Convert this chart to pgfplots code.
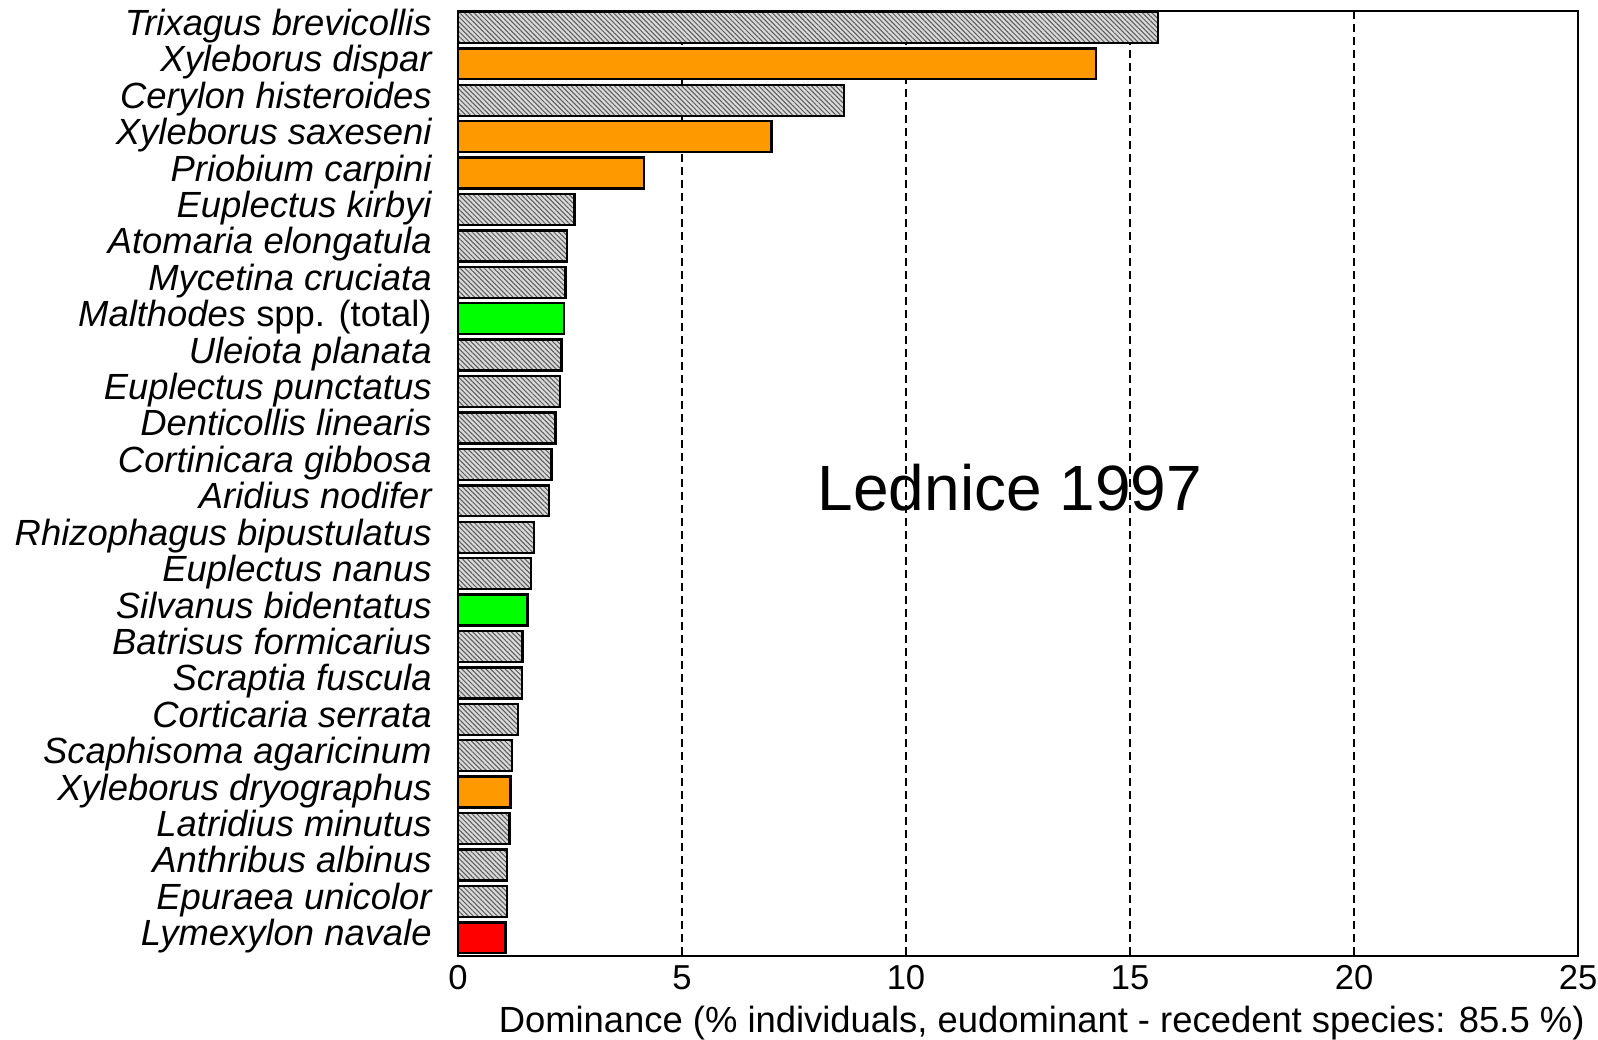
\documentclass[border=0pt]{standalone}
\usepackage{pgfplots}
\pgfplotsset{compat=1.18}
\usepackage{fontspec}
\setmainfont{Liberation Sans}
\usetikzlibrary{patterns.meta}
\definecolor{barorange}{RGB}{255,153,0}
\definecolor{bargreen}{RGB}{0,255,0}
\definecolor{barred}{RGB}{255,0,0}
\begin{document}
\begin{tikzpicture}
\begin{axis}[
  at={(0,0)}, anchor=south west,
  scale only axis,
  width=560pt, height=472.5pt,
  xmin=0, xmax=25,
  ymin=-0.45, ymax=25.5,
  y dir=reverse,
  xbar, bar width=0.85, bar shift=0pt,
  xtick={0,5,10,15,20,25},
  ytick={0,...,25},
  yticklabels={
    {Trixagus brevicollis},
    {Xyleborus dispar},
    {Cerylon histeroides},
    {Xyleborus saxeseni},
    {Priobium carpini},
    {Euplectus kirbyi},
    {Atomaria elongatula},
    {Mycetina cruciata},
    {Malthodes\upshape\ spp. (total)},
    {Uleiota planata},
    {Euplectus punctatus},
    {Denticollis linearis},
    {Cortinicara gibbosa},
    {Aridius nodifer},
    {Rhizophagus bipustulatus},
    {Euplectus nanus},
    {Silvanus bidentatus},
    {Batrisus formicarius},
    {Scraptia fuscula},
    {Corticaria serrata},
    {Scaphisoma agaricinum},
    {Xyleborus dryographus},
    {Latridius minutus},
    {Anthribus albinus},
    {Epuraea unicolor},
    {Lymexylon navale}},
  yticklabel style={font=\fontsize{18.2}{18.2}\selectfont\itshape, anchor=base east, inner sep=0pt, xshift=-13pt, yshift=-4pt},
  xticklabel style={font=\fontsize{17.3}{17.3}\selectfont, anchor=north, inner sep=0pt, yshift=-4.5pt},
  /pgf/number format/assume math mode=true,
  ytick style={draw=none},
  xtick style={black, line width=0.6pt},
  major tick length=3pt,
  tick align=inside,
  xmajorgrids,
  major grid style={black, dashed, dash pattern=on 4pt off 2.5pt, line width=0.6pt},
  axis line style={line width=1pt},
  xlabel={Dominance (\% individuals, eudominant - recedent species: 85.5 \%)},
  xlabel style={font=\fontsize{18.2}{18.2}\selectfont, at={(axis description cs:1,0)}, anchor=base east, inner sep=0pt, yshift=-38pt, xshift=3.5pt},
  clip=false,
]
\addplot[draw=black, line width=1.2pt, fill=black!15,
  postaction={pattern={Lines[angle=-45, distance=1.7pt, line width=0.5pt]}, pattern color=black!65}]
  coordinates {
  (15.62,0) (8.61,2) (2.60,5) (2.43,6) (2.40,7) (2.31,9) (2.28,10) (2.18,11)
  (2.09,12) (2.03,13) (1.69,14) (1.63,15) (1.44,17) (1.43,18) (1.34,19)
  (1.21,20) (1.15,22) (1.09,23) (1.09,24)};
\addplot[draw=black, line width=1.2pt, fill=barorange]
  coordinates {(14.24,1) (7.00,3) (4.15,4) (1.17,21)};
\addplot[draw=black, line width=1.2pt, fill=bargreen]
  coordinates {(2.37,8) (1.55,16)};
\addplot[draw=black, line width=1.2pt, fill=barred]
  coordinates {(1.06,25)};
\node[anchor=base, font=\fontsize{32}{32}\selectfont, inner sep=0pt] at (axis cs:12.32,13.26) {Lednice 1997};
\end{axis}
\pgfresetboundingbox
\path[use as bounding box] (-229pt,-41.5pt) rectangle (570pt,478pt);
\end{tikzpicture}
\end{document}
